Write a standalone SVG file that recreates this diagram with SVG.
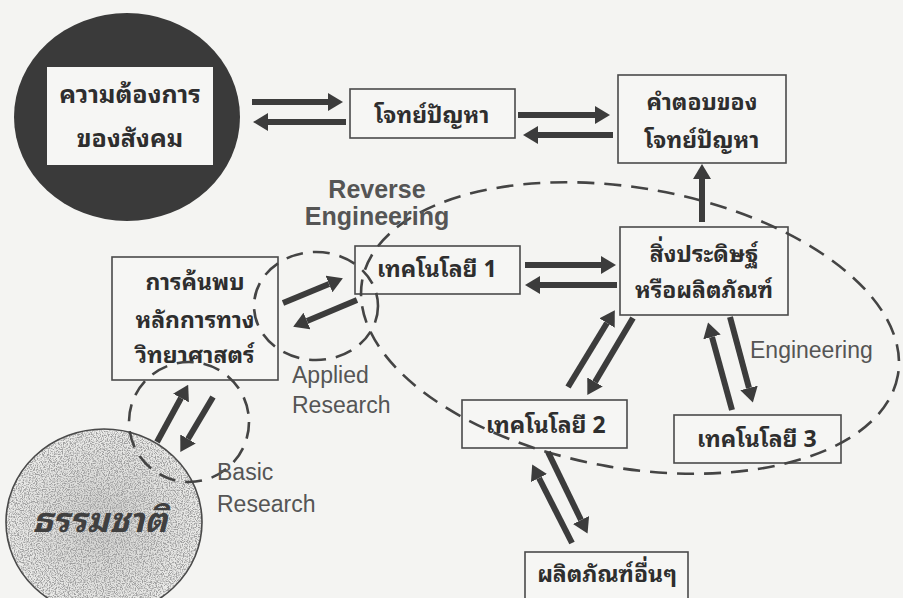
<svg xmlns="http://www.w3.org/2000/svg" width="903" height="598" viewBox="0 0 903 598">
<defs>
<style>
.box{fill:#f6f6f4;stroke:#4a4a4a;stroke-width:1.6}
.th{font-family:"Noto Sans Thai Looped","Noto Serif Thai","Noto Sans Thai",Loma,Garuda,"Noto Sans",sans-serif;font-weight:bold;fill:#2e2e2e;text-anchor:middle}
.en{font-family:"Liberation Sans",Arial,sans-serif;fill:#555}
.arr{stroke:#3c3c3c;stroke-width:6;fill:none;marker-end:url(#head)}
.dash{fill:none;stroke:#444;stroke-width:2.6;stroke-dasharray:17 10}
</style>
<marker id="head" viewBox="0 0 15 18" refX="0" refY="9" markerWidth="15" markerHeight="18" markerUnits="userSpaceOnUse" orient="auto">
<path d="M0,0 L15,9 L0,18 z" fill="#3c3c3c"/>
</marker>
<filter id="grain" x="0" y="0" width="100%" height="100%">
<feTurbulence type="fractalNoise" baseFrequency="0.85" numOctaves="2" seed="4" result="n"/>
<feColorMatrix in="n" type="matrix" values="0 0 0 0 0.35  0 0 0 0 0.35  0 0 0 0 0.35  4 0 0 0 -1.7" result="s"/>
<feComposite in="s" in2="SourceGraphic" operator="in"/>
</filter>
<radialGradient id="natG" cx="0.5" cy="0.5" r="0.5">
<stop offset="0" stop-color="#cfcfcd"/>
<stop offset="1" stop-color="#ececea"/>
</radialGradient>
</defs>
<rect width="903" height="598" fill="#f4f4f2"/>

<g id="society">
<ellipse cx="127" cy="117" rx="113" ry="104" fill="#3a3a3a"/>
<rect x="47" y="67" width="166" height="98" fill="#f6f6f4"/>
<text class="th" x="130" y="103" font-size="25">ความต้องการ</text>
<text class="th" x="130" y="147" font-size="25">ของสังคม</text>
</g>

<g id="problem">
<rect class="box" x="350" y="89" width="165" height="49"/>
<text class="th" x="432" y="123" font-size="23">โจทย์ปัญหา</text>
</g>

<g id="answer">
<rect class="box" x="618" y="75" width="168" height="88"/>
<text class="th" x="702" y="110" font-size="23">คำตอบของ</text>
<text class="th" x="702" y="148" font-size="23">โจทย์ปัญหา</text>
</g>

<g id="invention">
<rect class="box" x="620" y="227" width="168" height="88"/>
<text class="th" x="704" y="262" font-size="23">สิ่งประดิษฐ์</text>
<text class="th" x="704" y="298" font-size="23">หรือผลิตภัณฑ์</text>
</g>

<g id="tech1">
<rect class="box" x="355" y="246" width="165" height="48"/>
<text class="th" x="437" y="277" font-size="23">เทคโนโลยี 1</text>
</g>

<g id="discovery">
<rect class="box" x="112" y="257" width="166" height="123"/>
<text class="th" x="195" y="290" font-size="23">การค้นพบ</text>
<text class="th" x="195" y="328" font-size="23">หลักการทาง</text>
<text class="th" x="195" y="363" font-size="23">วิทยาศาสตร์</text>
</g>

<g id="tech2">
<rect class="box" x="462" y="400" width="165" height="48"/>
<text class="th" x="546" y="433" font-size="23">เทคโนโลยี 2</text>
</g>

<g id="tech3">
<rect class="box" x="674" y="415" width="167" height="48"/>
<text class="th" x="757" y="447" font-size="23">เทคโนโลยี 3</text>
</g>

<g id="others">
<rect class="box" x="525" y="552" width="163" height="60"/>
<text class="th" x="607" y="582" font-size="23">ผลิตภัณฑ์อื่นๆ</text>
</g>

<g id="nature">
<ellipse cx="104" cy="522" rx="98" ry="93" fill="url(#natG)"/>
<ellipse cx="104" cy="522" rx="98" ry="93" fill="#000" filter="url(#grain)"/>
<ellipse cx="104" cy="522" rx="98" ry="93" fill="none" stroke="#4a4a4a" stroke-width="1.6"/>
<text class="th" x="100" y="532" font-size="34" font-style="italic" style="fill:#404040">ธรรมชาติ</text>
</g>

<g id="regions">
<ellipse class="dash" cx="630" cy="328" rx="272" ry="140" transform="rotate(10 630 328)"/>
<ellipse class="dash" cx="316" cy="306" rx="62" ry="54"/>
<ellipse class="dash" cx="189" cy="422" rx="60" ry="60"/>
</g>

<g id="labels">
<text class="en" x="377" y="198" font-size="25" font-weight="bold" text-anchor="middle">Reverse</text>
<text class="en" x="377" y="225" font-size="25" font-weight="bold" text-anchor="middle">Engineering</text>
<text class="en" x="292" y="383" font-size="23">Applied</text>
<text class="en" x="292" y="413" font-size="23">Research</text>
<text class="en" x="750" y="358" font-size="23">Engineering</text>
<text class="en" x="217" y="480" font-size="23">Basic</text>
<text class="en" x="217" y="512" font-size="23">Research</text>
</g>

<g id="connectors">
<line class="arr" x1="252" y1="102" x2="328" y2="102"/>
<line class="arr" x1="346" y1="122" x2="268" y2="122"/>
<line class="arr" x1="518" y1="115" x2="595" y2="115"/>
<line class="arr" x1="613" y1="135" x2="538" y2="135"/>
<line class="arr" x1="702" y1="222" x2="702" y2="179"/>
<line class="arr" x1="525" y1="265" x2="601" y2="265"/>
<line class="arr" x1="617" y1="285" x2="540" y2="285"/>
<line class="arr" x1="283" y1="303" x2="329" y2="284"/>
<line class="arr" x1="357" y1="300" x2="307" y2="321"/>
<line class="arr" x1="157" y1="442" x2="181" y2="398"/>
<line class="arr" x1="213" y1="397" x2="188" y2="439"/>
<line class="arr" x1="568" y1="387" x2="607" y2="323"/>
<line class="arr" x1="633" y1="318" x2="595" y2="382"/>
<line class="arr" x1="732" y1="410" x2="712" y2="337"/>
<line class="arr" x1="730" y1="317" x2="749" y2="388"/>
<line class="arr" x1="572" y1="543" x2="539" y2="478"/>
<line class="arr" x1="548" y1="452" x2="581" y2="520"/>
</g>
</svg>
